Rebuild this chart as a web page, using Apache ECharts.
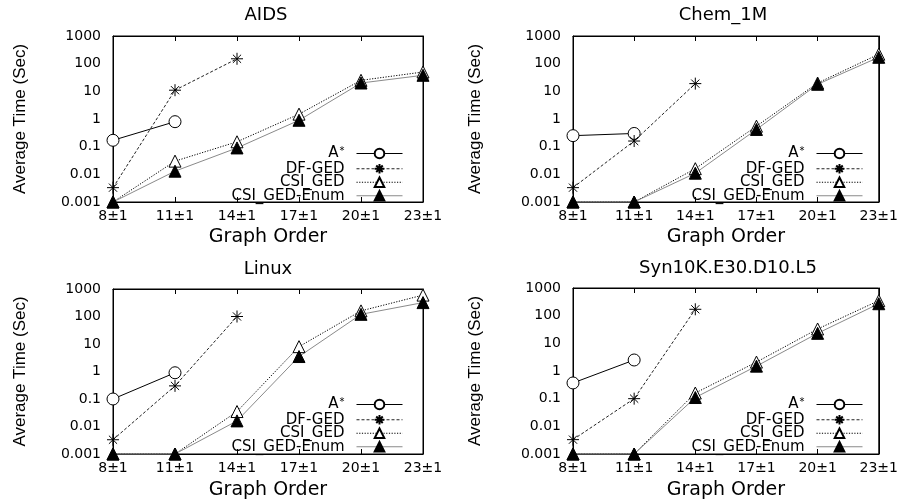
<!DOCTYPE html>
<html>
<head>
<meta charset="utf-8">
<title>Average Time</title>
<script src="https://cdn.jsdelivr.net/npm/echarts@6/dist/echarts.min.js"></script>
<style>
  html, body { margin: 0; padding: 0; background: #fff; }
  #chart { width: 901px; height: 502px; }
</style>
</head>
<body>
<div id="chart"></div>
<script>
var categories = ['8±1', '11±1', '14±1', '17±1', '20±1', '23±1']
var yTickLabels = ['0.001', '0.01', '0.1', '1', '10', '100', '1000']
var seriesNames = ['A*', 'DF-GED', 'CSI_GED', 'CSI_GED-Enum']
var titles = ['AIDS', 'Chem_1M', 'Linux', 'Syn10K.E30.D10.L5']

// AIDS
var aidsAStar = [0.17, 0.8, null, null, null, null]
var aidsDF = [0.0033, 11, 150, null, null, null]
var aidsCSI = [0.001, 0.03, 0.15, 1.5, 25, 50]
var aidsEnum = [0.001, 0.013, 0.09, 0.9, 20, 38]

// Chem_1M
var chemAStar = [0.25, 0.3, null, null, null, null]
var chemDF = [0.0033, 0.16, 19, null, null, null]
var chemCSI = [0.001, 0.001, 0.016, 0.55, 20, 220]
var chemEnum = [0.001, 0.001, 0.011, 0.42, 18, 170]

// Linux
var linuxAStar = [0.1, 0.9, null, null, null, null]
var linuxDF = [0.0033, 0.3, 100, null, null, null]
var linuxCSI = [0.001, 0.001, 0.035, 8, 160, 600]
var linuxEnum = [0.001, 0.001, 0.016, 3.5, 120, 320]

// Syn10K.E30.D10.L5
var synAStar = [0.37, 2.5, null, null, null, null]
var synDF = [0.0033, 0.1, 170, null, null, null]
var synCSI = [0.001, 0.001, 0.16, 2.1, 33, 350]
var synEnum = [0.001, 0.001, 0.11, 1.5, 23, 270]

var panels = [
  [aidsAStar, aidsDF, aidsCSI, aidsEnum],
  [chemAStar, chemDF, chemCSI, chemEnum],
  [linuxAStar, linuxDF, linuxCSI, linuxEnum],
  [synAStar, synDF, synCSI, synEnum]
]

// layout: [left, top, width, height]
var boxes = [[113, 36, 310, 166], [573, 36, 311, 166], [113, 289, 310, 165], [573, 288, 311, 166]]
var titleCenters = [[266, 6], [723, 6], [268, 260], [728, 259]]
var legendPos = [[498, 146], [38, 146], [498, 397], [38, 397]]
var yNameGaps = [84, 89, 84, 89]
var xNameGaps = [26, 26, 27, 27]

// gnuplot style log minor tics (2..9 of every decade)
var minorTicks = []
for (var e = -3; e < 3; e++) {
  for (var m = 2; m < 10; m++) {
    minorTicks.push(+(m * Math.pow(10, e)).toPrecision(3))
  }
}

var FONT = 'DejaVu Sans'
var asterisk = 'path://M5,0L5,10M0,5L10,5M1.6,1.6L8.4,8.4M1.6,8.4L8.4,1.6'

var chart = echarts.init(document.getElementById('chart'))

var grid = [], xAxis = [], yAxis = [], series = [], title = [], legend = []

boxes.forEach(function (b, i) {
  grid.push({
    left: b[0], top: b[1], width: b[2], height: b[3],
    show: true, borderColor: '#000', borderWidth: 1, containLabel: false
  })
  title.push({
    text: titles[i], left: titleCenters[i][0], top: titleCenters[i][1], textAlign: 'center', padding: 0,
    textStyle: { fontFamily: FONT, fontSize: 18, fontWeight: 'normal', color: '#000' }
  })
  // bottom x axis with labels
  xAxis.push({
    type: 'category', gridIndex: i, data: categories, boundaryGap: false, position: 'bottom',
    name: 'Graph Order', nameLocation: 'middle', nameGap: xNameGaps[i],
    nameTextStyle: { fontFamily: FONT, fontSize: 19, color: '#000' },
    axisLine: { lineStyle: { color: '#000', width: 1 } },
    axisTick: { inside: true, length: 5, alignWithLabel: true, lineStyle: { color: '#000' } },
    axisLabel: { margin: 7, fontFamily: FONT, fontSize: 14, color: '#000' },
    splitLine: { show: false }
  })
  // top mirror
  xAxis.push({
    type: 'category', gridIndex: i, data: categories, boundaryGap: false, position: 'top',
    axisLine: { lineStyle: { color: '#000', width: 1 } },
    axisTick: { inside: true, length: 5, lineStyle: { color: '#000' } },
    axisLabel: { show: false }, splitLine: { show: false }
  })
  var logBase = { type: 'log', gridIndex: i, logBase: 10, min: 0.001, max: 1000, splitNumber: 6, splitLine: { show: false } }
  // left main
  yAxis.push(Object.assign({}, logBase, {
    position: 'left',
    name: 'Average Time (Sec)', nameLocation: 'middle', nameGap: yNameGaps[i],
    nameTextStyle: { fontFamily: 'Liberation Sans', fontSize: 17, color: '#000' },
    axisLine: { show: true, lineStyle: { color: '#000', width: 1 } },
    axisTick: { inside: true, length: 6, lineStyle: { color: '#000' } },
    axisLabel: {
      margin: 12, fontFamily: FONT, fontSize: 14, color: '#000',
      formatter: function (v) { return yTickLabels[Math.round(Math.log10(v)) + 3] }
    }
  }))
  // left minor
  yAxis.push(Object.assign({}, logBase, {
    position: 'left',
    axisLine: { show: false },
    axisTick: { inside: true, length: 3, customValues: minorTicks, lineStyle: { color: '#000' } },
    axisLabel: { show: false }
  }))
  // right main
  yAxis.push(Object.assign({}, logBase, {
    position: 'right',
    axisLine: { show: true, lineStyle: { color: '#000', width: 1 } },
    axisTick: { inside: true, length: 6, lineStyle: { color: '#000' } },
    axisLabel: { show: false }
  }))
  // right minor
  yAxis.push(Object.assign({}, logBase, {
    position: 'right',
    axisLine: { show: false },
    axisTick: { inside: true, length: 3, customValues: minorTicks, lineStyle: { color: '#000' } },
    axisLabel: { show: false }
  }))

  var vals = panels[i]
  var common = { type: 'line', xAxisIndex: i * 2, yAxisIndex: i * 4, clip: false, connectNulls: false, animation: false }
  series.push(Object.assign({}, common, {
    name: 'A*', data: vals[0], symbol: 'circle', symbolSize: 12,
    itemStyle: { color: '#fff', borderColor: '#000', borderWidth: 1 },
    lineStyle: { color: '#000', width: 1, type: 'solid' }
  }))
  series.push(Object.assign({}, common, {
    name: 'DF-GED', data: vals[1], symbol: asterisk, symbolSize: 12,
    itemStyle: { color: 'rgba(0,0,0,0)', borderColor: '#000', borderWidth: 1 },
    lineStyle: { color: '#222', width: 1, type: [3, 2] }
  }))
  series.push(Object.assign({}, common, {
    name: 'CSI_GED', data: vals[2], symbol: 'triangle', symbolSize: 12,
    itemStyle: { color: '#fff', borderColor: '#000', borderWidth: 1 },
    lineStyle: { color: '#000', width: 1, type: [1.2, 1.5] }
  }))
  series.push(Object.assign({}, common, {
    name: 'CSI_GED-Enum', data: vals[3], symbol: 'triangle', symbolSize: 12,
    itemStyle: { color: '#000', borderColor: '#000', borderWidth: 1 },
    lineStyle: { color: '#8a8a8a', width: 1, type: 'solid' }
  }))

  legend.push({
    orient: 'vertical', align: 'right', right: legendPos[i][0], top: legendPos[i][1],
    padding: 0, itemWidth: 46, itemHeight: 12, itemGap: -1.5,
    data: seriesNames, selectedMode: false,
    lineStyle: { width: 1 },
    textStyle: {
      fontFamily: FONT, fontSize: 15, lineHeight: 13.5, color: '#000', padding: [0, 7, 0, 0],
      rich: { sup: { fontSize: 10, lineHeight: 8, verticalAlign: 'top', padding: [0, 0, 6, 1] } }
    },
    formatter: function (name) { return name === 'A*' ? 'A{sup|*}' : name }
  })
})

var option = {
  backgroundColor: '#fff',
  animation: false,
  title: title,
  legend: legend,
  grid: grid,
  xAxis: xAxis,
  yAxis: yAxis,
  series: series
}

chart.setOption(option, true)
</script>
</body>
</html>
